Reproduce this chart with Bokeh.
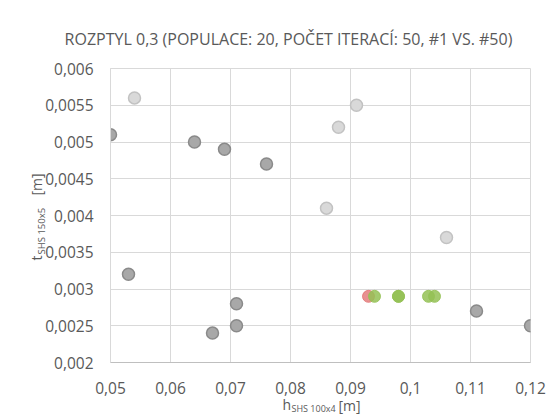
from bokeh.plotting import figure
from bokeh.models import (Range1d, FixedTicker, CustomJSTickFormatter, Label)
from bokeh.embed import file_html
from bokeh.resources import INLINE
import math

# ---- data ----
gen1_dark_x = [0.050, 0.053, 0.064, 0.069, 0.076, 0.067, 0.071, 0.071, 0.111, 0.120]
gen1_dark_y = [0.0051, 0.0032, 0.0050, 0.0049, 0.0047, 0.0024, 0.0028, 0.0025, 0.0027, 0.0025]
gen1_light_x = [0.054, 0.091, 0.088, 0.086, 0.106]
gen1_light_y = [0.0056, 0.0055, 0.0052, 0.0041, 0.0037]
best_x = [0.093]
best_y = [0.0029]
gen50_x = [0.094, 0.098, 0.098, 0.103, 0.104]
gen50_y = [0.0029, 0.0029, 0.0029, 0.0029, 0.0029]

x_ticks = [0.05, 0.06, 0.07, 0.08, 0.09, 0.10, 0.11, 0.12]
y_ticks = [0.002, 0.0025, 0.003, 0.0035, 0.004, 0.0045, 0.005, 0.0055, 0.006]

title_text = "ROZPTYL 0,3 (POPULACE: 20, POČET ITERACÍ: 50, #1 VS. #50)"
FONT = "Open Sans"
TXT = "#595959"
GRID = "#d9d9d9"

p = figure(frame_width=420, frame_height=294, output_backend="svg", toolbar_location=None,
           x_range=Range1d(0.05, 0.12), y_range=Range1d(0.002, 0.006),
           min_border_left=110, min_border_right=28, min_border_top=68,
           min_border_bottom=57)
p.background_fill_color = "white"
p.border_fill_color = "white"
p.outline_line_color = GRID

fmt = CustomJSTickFormatter(code="return String(parseFloat(tick.toPrecision(4))).replace('.', ',');")
for ax, ticks in ((p.xaxis[0], x_ticks), (p.yaxis[0], y_ticks)):
    ax.ticker = FixedTicker(ticks=ticks)
    ax.formatter = fmt
    ax.major_tick_line_color = None
    ax.minor_tick_line_color = None
    ax.major_tick_out = 0
    ax.major_label_text_font = FONT
    ax.major_label_text_font_size = "15.5px"
    ax.major_label_text_color = TXT
p.yaxis.major_label_standoff = 17
p.xaxis.major_label_standoff = 19
p.xaxis.axis_line_color = "#bfbfbf"
p.yaxis.axis_line_color = GRID
p.xgrid.ticker = FixedTicker(ticks=x_ticks)
p.ygrid.ticker = FixedTicker(ticks=y_ticks)
p.grid.grid_line_color = GRID
p.grid.grid_line_width = 1

p.scatter(gen1_light_x, gen1_light_y, size=12, fill_color="#d9d9d9",
          line_color="#c2c2c2", line_width=1.5)
p.scatter(gen1_dark_x, gen1_dark_y, size=12, fill_color="#a8a8a8",
          line_color="#8a8a8a", line_width=1.5)
p.scatter(best_x, best_y, size=12, fill_color="#e06c6c", fill_alpha=0.75,
          line_color="#e06c6c", line_alpha=0.75)
p.scatter(gen50_x, gen50_y, size=12, fill_color="#94c155", fill_alpha=0.85,
          line_color="#94c155", line_alpha=0.85)

def lab(place, x, y, t, size="14px", align="left", baseline="alphabetic", angle=0.0):
    lbl = Label(x=x, y=y, x_units="screen", y_units="screen", text=t,
                text_font=FONT, text_font_size=size, text_color=TXT,
                text_align=align, text_baseline=baseline, angle=angle)
    p.add_layout(lbl, place)

# title (above panel, relative to frame top)
lab("above", 178, 30, title_text, size="16px", align="center", baseline="middle")
# x axis label parts (below panels)
lab("below", 172, 11, "h")
lab("below", 181, 20, "SHS 100x4", size="9px")
lab("below", 228, 42, "[m]")
# y axis label parts (below panels, rotated)
ang = math.pi / 2
lab("below", -74, 192, "t", angle=ang)
lab("below", -69, 245, "SHS 150x5", size="9.5px", angle=ang)
lab("below", -74, 326, "[m]", angle=ang)

open("out.html", "w").write(file_html(p, INLINE))
